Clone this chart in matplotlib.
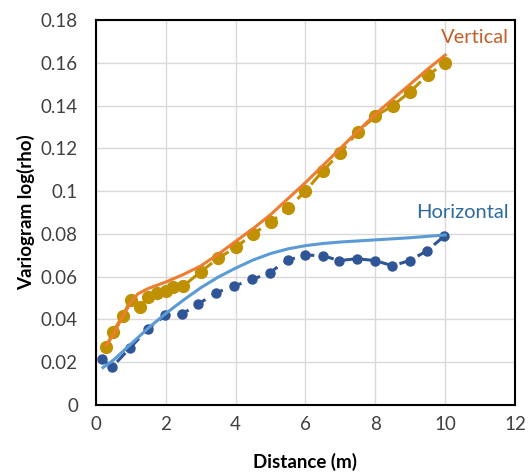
import numpy as np
import matplotlib.pyplot as plt

plt.rcParams['font.family'] = ['Lato', 'DejaVu Sans']

# vertical variogram (points)
vert_x = [0.29, 0.48, 0.76, 0.99, 1.26, 1.5, 1.76, 2.0, 2.2, 2.5, 3.0, 3.5, 4.0, 4.5, 5.0, 5.5,
          6.0, 6.5, 7.0, 7.5, 8.0, 8.5, 9.0, 9.5, 10.0]
vert_y = [0.027, 0.034, 0.0416, 0.049, 0.046, 0.0503, 0.0525, 0.0535, 0.0553, 0.0556, 0.0623,
          0.0686, 0.0737, 0.080, 0.0854, 0.092, 0.100, 0.1095, 0.118, 0.1278, 0.135, 0.140,
          0.1465, 0.1543, 0.1597]
# vertical model
vmod_x = [0.3, 0.5, 0.75, 1.0, 1.2, 1.5, 2.0, 2.5, 3.0, 3.5, 4.0, 4.5, 5.0, 5.5, 6.0, 6.5,
          7.0, 7.5, 8.0, 8.5, 9.0, 9.5, 10.0]
vmod_y = [0.028, 0.033, 0.041, 0.048, 0.052, 0.0545, 0.0575, 0.061, 0.065, 0.0705, 0.0765,
          0.0825, 0.089, 0.0965, 0.104, 0.112, 0.120, 0.128, 0.136, 0.143, 0.150, 0.157,
          0.1636]

# horizontal variogram (points)
hor_x = [0.16, 0.47, 0.97, 1.48, 1.99, 2.46, 2.93, 3.44, 3.95, 4.48, 4.97, 5.5, 6.0, 6.5, 6.97,
         7.47, 8.0, 8.49, 8.98, 9.47, 9.98]
hor_y = [0.0214, 0.0179, 0.0266, 0.0354, 0.042, 0.0425, 0.0472, 0.0525, 0.0556, 0.0587, 0.0619,
         0.0678, 0.0701, 0.0698, 0.0675, 0.0684, 0.0675, 0.0651, 0.0675, 0.072, 0.079]
# horizontal model
hmod_x = [0.2, 0.5, 1.0, 1.5, 2.0, 2.5, 3.0, 3.5, 4.0, 4.5, 5.0, 5.5, 6.0, 6.5, 7.0, 8.0, 9.0, 10.0]
hmod_y = [0.0175, 0.021, 0.0285, 0.036, 0.0428, 0.049, 0.0548, 0.0598, 0.064, 0.0678, 0.0708,
          0.073, 0.0745, 0.0755, 0.0762, 0.0772, 0.0782, 0.0795]

fig = plt.figure(figsize=(5.29, 4.75), dpi=100)
ax = fig.add_axes([0.1815, 0.1474, 0.7920, 0.8105])

ax.plot(hor_x, hor_y, color='#2F5597', lw=2.2, ls=(0, (4, 2.5)), marker='o', ms=6.5, zorder=3)
ax.plot(hmod_x, hmod_y, color='#5B9BD5', lw=2.2, zorder=4)
ax.plot(vert_x, vert_y, color='#BF9000', lw=2.2, ls=(0, (4, 2.5)), marker='o', ms=8.5, zorder=3)
ax.plot(vmod_x, vmod_y, color='#ED7D31', lw=2.2, zorder=4)

ax.text(10.85, 0.1716, 'Vertical', color='#C0602A', fontsize=14.5, ha='center', va='center')
ax.text(10.5, 0.0898, 'Horizontal', color='#2E6A9E', fontsize=14.5, ha='center', va='center')

ax.set_xlim(0, 12)
ax.set_ylim(0, 0.18)
ax.set_xticks(np.arange(0, 13, 2))
ax.set_yticks(np.arange(0, 0.181, 0.02))
ax.set_yticklabels(['0', '0.02', '0.04', '0.06', '0.08', '0.1', '0.12', '0.14', '0.16', '0.18'])
ax.grid(True, color='#D9D9D9', lw=1)
ax.set_axisbelow(True)
for s in ax.spines.values():
    s.set_color('black')
    s.set_linewidth(1.5)
ax.tick_params(length=0, labelsize=13.5, colors='#404040')
ax.tick_params(axis='x', pad=8)
ax.tick_params(axis='y', pad=13)
ax.set_xlabel('Distance (m)', fontsize=13.5, fontweight='bold', labelpad=14)
ax.set_ylabel('Variogram log(rho)', fontsize=13.5, fontweight='bold', labelpad=4)

fig.savefig('out.png', dpi=100)
